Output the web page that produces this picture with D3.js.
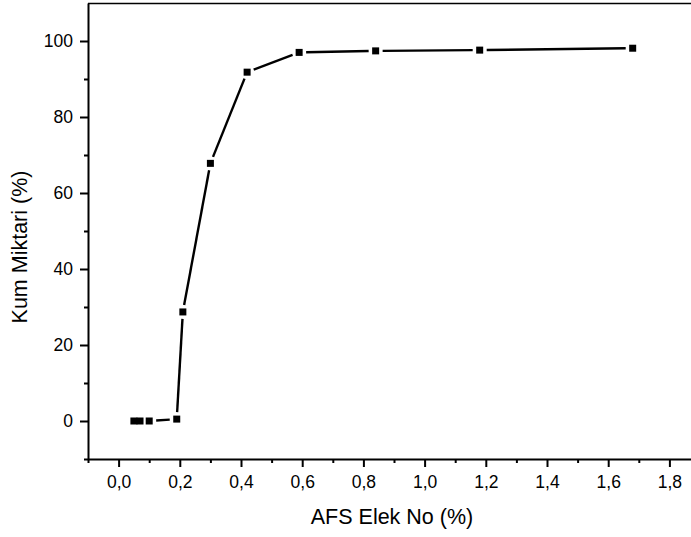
<!DOCTYPE html>
<html>
<head>
<meta charset="utf-8">
<style>
  body { margin: 0; background: #fff; }
  svg { display: block; }
  .axis text { font-family: "Liberation Sans", Arial, sans-serif; font-size: 17.5px; fill: #000; }
  .axis line { stroke: #000; stroke-width: 2px; }
  .axis path { stroke: #000; stroke-width: 2px; }
  .title { font-family: "Liberation Sans", Arial, sans-serif; font-size: 21.5px; fill: #000; }
</style>
</head>
<body>
<svg width="691" height="537"></svg>
<script src="https://cdn.jsdelivr.net/npm/d3@7"></script>
<script>
// sieve sizes and cumulative sand amounts
var elekNo = [0.05, 0.07, 0.10, 0.19, 0.21, 0.30, 0.42, 0.59, 0.84, 1.18, 1.68];
var kumMiktari = [0, 0, 0, 0.5, 28.7, 67.8, 91.8, 97.0, 97.4, 97.6, 98.1];

var xMajor = [0, 0.2, 0.4, 0.6, 0.8, 1.0, 1.2, 1.4, 1.6, 1.8];
var xMinor = [-0.1, 0.1, 0.3, 0.5, 0.7, 0.9, 1.1, 1.3, 1.5, 1.7];
var yMajor = [0, 20, 40, 60, 80, 100];
var yMinor = [-10, 10, 30, 50, 70, 90];

var svg = d3.select("svg");
var mLeft = 88, mTop = 3, mBottom = 459, mRight = 700;

var x = d3.scaleLinear().domain([-0.1, 1.9]).range([mLeft, mRight]);
var y = d3.scaleLinear().domain([-10, 110]).range([mBottom, mTop]);

var fmt = function(d) { return d3.format(".1f")(d).replace(".", ","); };

// minor ticks first
svg.append("g").attr("class", "axis")
    .attr("transform", "translate(0," + mBottom + ")")
    .call(d3.axisBottom(x).tickValues(xMinor).tickSize(4).tickFormat(""))
    .select(".domain").remove();
svg.append("g").attr("class", "axis")
    .attr("transform", "translate(" + mLeft + ",0)")
    .call(d3.axisLeft(y).tickValues(yMinor).tickSize(4).tickFormat(""))
    .select(".domain").remove();

svg.append("g").attr("class", "axis")
    .attr("transform", "translate(0," + mBottom + ")")
    .call(d3.axisBottom(x).tickValues(xMajor).tickSize(8).tickSizeOuter(0).tickPadding(9).tickFormat(fmt));

svg.append("g").attr("class", "axis")
    .attr("transform", "translate(" + mLeft + ",0)")
    .call(d3.axisLeft(y).tickValues(yMajor).tickSize(8).tickSizeOuter(0).tickPadding(7).tickFormat(d3.format("d")));

// top frame line
svg.append("line")
    .attr("x1", mLeft).attr("x2", mRight)
    .attr("y1", mTop + 0.5).attr("y2", mTop + 0.5)
    .attr("stroke", "#000").attr("stroke-width", 1.4);

// line segments with small gaps next to the markers
var pts = elekNo.map(function(d, i) { return [x(d), y(kumMiktari[i])]; });
var gap = 7;
for (var i = 0; i < pts.length - 1; i++) {
  var a = pts[i], b = pts[i + 1];
  var dx = b[0] - a[0], dy = b[1] - a[1];
  var len = Math.sqrt(dx * dx + dy * dy);
  if (len <= 2 * gap + 1) continue;
  var ux = dx / len, uy = dy / len;
  svg.append("line")
      .attr("x1", a[0] + ux * gap).attr("y1", a[1] + uy * gap)
      .attr("x2", b[0] - ux * gap).attr("y2", b[1] - uy * gap)
      .attr("stroke", "#000").attr("stroke-width", 2.4);
}

var ms = 7;
svg.selectAll(".pt")
    .data(elekNo)
  .enter().append("rect")
    .attr("class", "pt")
    .attr("x", function(d) { return x(d) - ms / 2; })
    .attr("y", function(d, i) { return y(kumMiktari[i]) - ms / 2; })
    .attr("width", ms).attr("height", ms)
    .attr("fill", "#000");

svg.append("text").attr("class", "title")
    .attr("x", 392).attr("y", 524)
    .attr("text-anchor", "middle")
    .text("AFS Elek No (%)");

svg.append("text").attr("class", "title")
    .attr("transform", "translate(27,247) rotate(-90)")
    .attr("text-anchor", "middle")
    .text("Kum Miktari (%)");
</script>
</body>
</html>
